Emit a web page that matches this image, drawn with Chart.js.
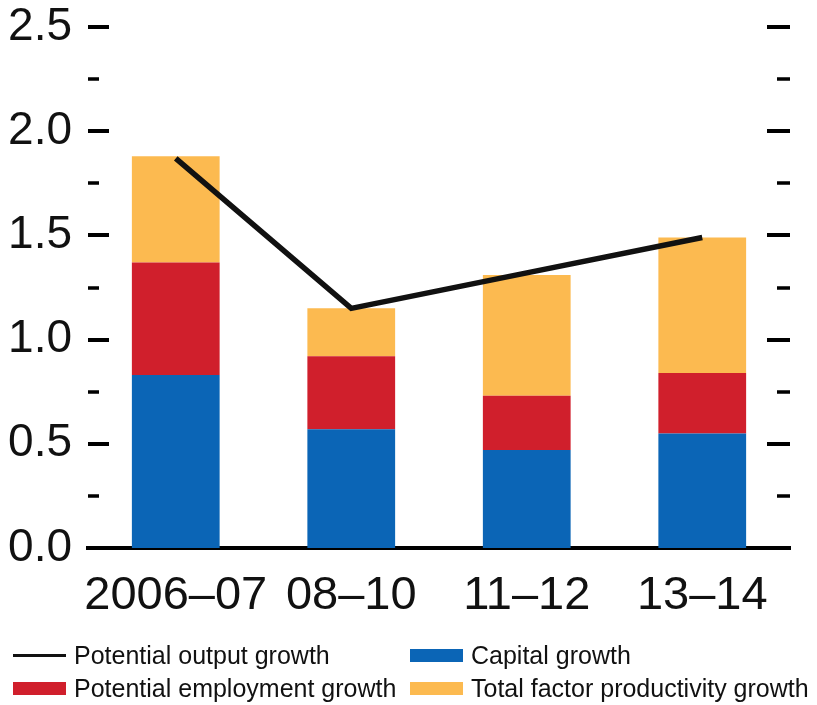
<!DOCTYPE html>
<html>
<head>
<meta charset="utf-8">
<script src="https://cdn.jsdelivr.net/npm/chart.js@4.4.1/dist/chart.umd.min.js"></script>
<style>
  body { margin: 0; background: #fff; }
  #wrap { position: relative; width: 817px; height: 705px; font-family: "Liberation Sans", Arial, sans-serif; }
  #legend {
    position: absolute; left: 13px; top: 639px;
    display: grid; grid-template-columns: 397px auto; grid-auto-rows: 33px;
    font-size: 25px; color: #111;
  }
  .item { display: flex; align-items: center; white-space: nowrap; }
  .sym { width: 53px; margin-right: 8px; flex: none; }
</style>
</head>
<body>
<div id="wrap">
  <canvas id="chart" width="817" height="705"></canvas>
  <div id="legend"></div>
</div>
<script>
// data (percent)
const periods = ['2006–07', '08–10', '11–12', '13–14'];
const capital = [0.83, 0.57, 0.47, 0.55];
const employment = [0.54, 0.35, 0.26, 0.29];
const tfp = [0.51, 0.23, 0.58, 0.65];
const potentialOutput = [1.87, 1.15, 1.32, 1.49];

const BLUE = '#0b65b6';
const RED = '#d01f2c';
const ORANGE = '#fcba50';

// little dashes on both sides of the plot, drawn inside the area
const sideTicks = {
    id: 'sideTicks',
    afterDraw(chart) {
        const ctx = chart.ctx;
        const area = chart.chartArea;
        const y = chart.scales.y;
        ctx.save();
        ctx.strokeStyle = '#000';
        y.ticks.forEach(t => {
            if (t.value === 0) return; // baseline is there
            const py = Math.round(y.getPixelForValue(t.value));
            const major = Math.abs(t.value * 2 - Math.round(t.value * 2)) < 1e-6;
            ctx.lineWidth = major ? 4 : 3.5;
            ctx.beginPath();
            ctx.moveTo(area.left, py);
            ctx.lineTo(area.left + (major ? 21 : 11), py);
            ctx.moveTo(area.right, py);
            ctx.lineTo(area.right - (major ? 23 : 13), py);
            ctx.stroke();
        });
        ctx.restore();
    }
};

const chart = new Chart(document.getElementById('chart'), {
    type: 'bar',
    data: {
        labels: periods,
        datasets: [
            {
                type: 'line',
                label: 'Potential output growth',
                data: potentialOutput,
                borderColor: '#111',
                backgroundColor: '#111',
                borderWidth: 5.5,
                pointRadius: 0,
                tension: 0,
                stack: 'line',
                order: 0
            },
            { label: 'Capital growth', data: capital, backgroundColor: BLUE, stack: 'bars', order: 1 },
            { label: 'Potential employment growth', data: employment, backgroundColor: RED, stack: 'bars', order: 1 },
            { label: 'Total factor productivity growth', data: tfp, backgroundColor: ORANGE, stack: 'bars', order: 1 }
        ]
    },
    options: {
        responsive: false,
        animation: false,
        layout: { padding: { top: 27, right: 27, bottom: 75, left: 0 } },
        datasets: { bar: { barPercentage: 0.5, categoryPercentage: 1.0 } },
        plugins: { legend: { display: false }, tooltip: { enabled: false } },
        scales: {
            x: {
                stacked: true,
                grid: { display: false, drawTicks: false, tickLength: 0 },
                border: { display: true, color: '#000', width: 4 },
                ticks: {
                    color: '#111', padding: 20, maxRotation: 0, autoSkip: false,
                    font: { family: '"Liberation Sans", Arial, sans-serif', size: 47 }
                },
                afterFit(scale) { scale.height = 82; }
            },
            y: {
                stacked: true,
                min: 0, max: 2.5,
                grid: { display: false, drawTicks: false, tickLength: 0 },
                border: { display: false },
                ticks: {
                    stepSize: 0.25, autoSkip: false, color: '#111', padding: 16,
                    font: { family: '"Liberation Sans", Arial, sans-serif', size: 46, lineHeight: 0.5 },
                    callback: v => (Math.abs(v * 2 - Math.round(v * 2)) < 1e-6 ? v.toFixed(1) : '')
                },
                afterFit(scale) {
                    scale.width = 88;
                    scale.paddingTop = 0;
                    scale.paddingBottom = 0;
                }
            }
        }
    },
    plugins: [sideTicks]
});

// legend in two columns, built from the datasets
const legendOrder = [0, 1, 2, 3];
const legendEl = document.getElementById('legend');
legendOrder.forEach(i => {
    const ds = chart.data.datasets[i];
    const item = document.createElement('div');
    item.className = 'item';
    const sym = document.createElement('span');
    sym.className = 'sym';
    if (ds.type === 'line') {
        sym.style.height = '3px';
        sym.style.background = ds.borderColor;
    } else {
        sym.style.height = '13px';
        sym.style.background = ds.backgroundColor;
    }
    const txt = document.createElement('span');
    txt.textContent = ds.label;
    item.appendChild(sym);
    item.appendChild(txt);
    legendEl.appendChild(item);
});
</script>
</body>
</html>
